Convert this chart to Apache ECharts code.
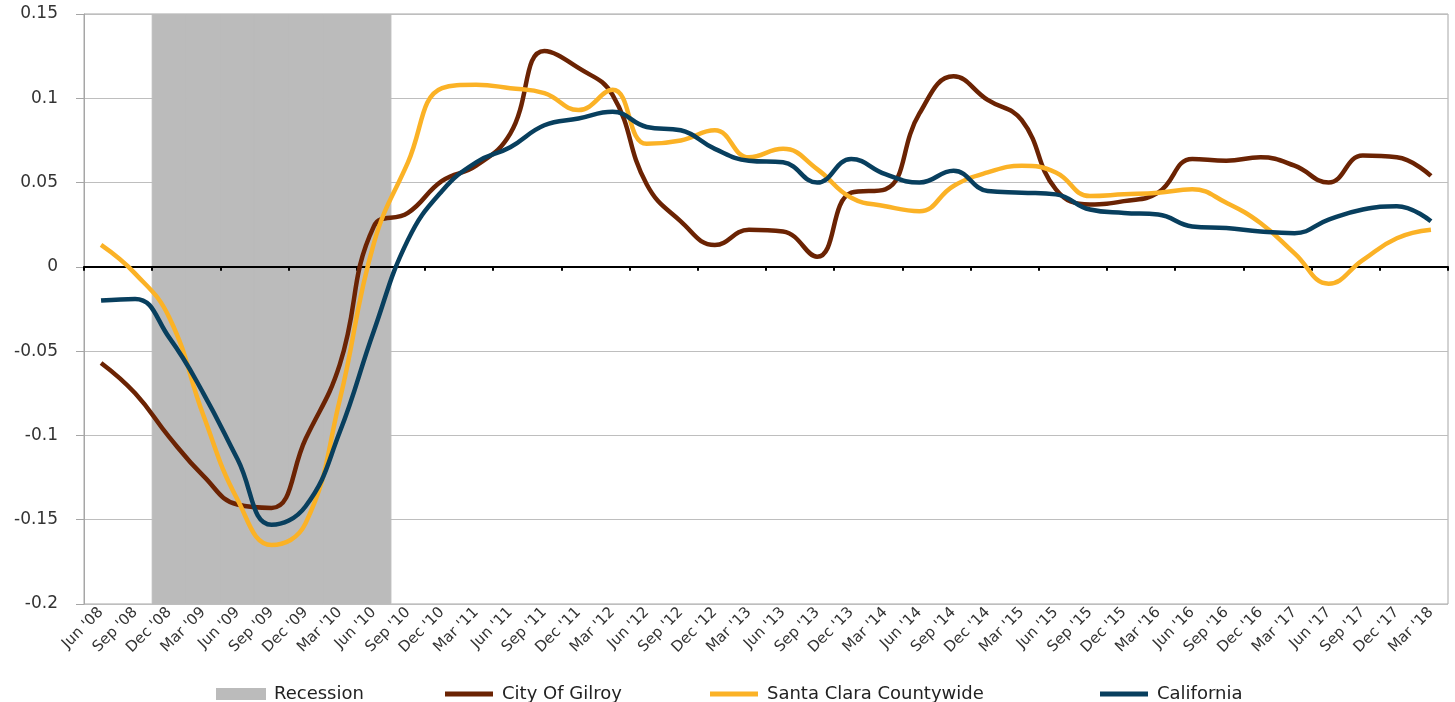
<!DOCTYPE html>
<html>
<head>
<meta charset="utf-8">
<script src="https://cdn.jsdelivr.net/npm/echarts@6/dist/echarts.min.js"></script>
<style>
  html, body { margin: 0; padding: 0; background: #fff; }
  #chart { width: 1455px; height: 702px; }
</style>
</head>
<body>
<div id="chart"></div>
<script>
    "use strict";

    var quarters = [
        "Jun '08", "Sep '08", "Dec '08",
        "Mar '09", "Jun '09", "Sep '09", "Dec '09",
        "Mar '10", "Jun '10", "Sep '10", "Dec '10",
        "Mar '11", "Jun '11", "Sep '11", "Dec '11",
        "Mar '12", "Jun '12", "Sep '12", "Dec '12",
        "Mar '13", "Jun '13", "Sep '13", "Dec '13",
        "Mar '14", "Jun '14", "Sep '14", "Dec '14",
        "Mar '15", "Jun '15", "Sep '15", "Dec '15",
        "Mar '16", "Jun '16", "Sep '16", "Dec '16",
        "Mar '17", "Jun '17", "Sep '17", "Dec '17",
        "Mar '18"
    ];

    // 1 = quarter inside the recession band
    var recession = [0, 0, 1, 1, 1, 1, 1, 1, 1, 0,
        0, 0, 0, 0, 0, 0, 0, 0, 0, 0,
        0, 0, 0, 0, 0, 0, 0, 0, 0, 0,
        0, 0, 0, 0, 0, 0, 0, 0, 0, 0];

    var gilroy = [-0.057, -0.075, -0.101, -0.124, -0.141, -0.143, -0.102, -0.058, 0.024, 0.032,
        0.051, 0.060, 0.079, 0.128, 0.118, 0.102, 0.049, 0.027, 0.013, 0.022,
        0.021, 0.006, 0.044, 0.046, 0.091, 0.113, 0.099, 0.087, 0.046, 0.037,
        0.039, 0.044, 0.064, 0.063, 0.065, 0.060, 0.050, 0.066, 0.065, 0.054];

    var santaClara = [0.013, -0.004, -0.030, -0.088, -0.138, -0.165, -0.152, -0.079, 0.014, 0.062,
        0.106, 0.108, 0.106, 0.103, 0.093, 0.105, 0.073, 0.075, 0.081, 0.065,
        0.070, 0.058, 0.041, 0.036, 0.033, 0.048, 0.056, 0.060, 0.056, 0.042,
        0.043, 0.044, 0.046, 0.038, 0.026, 0.008, -0.010, 0.004, 0.017, 0.022];

    var california = [-0.020, -0.019, -0.042, -0.075, -0.114, -0.153, -0.142, -0.098, -0.038, 0.016,
        0.045, 0.062, 0.071, 0.084, 0.088, 0.092, 0.083, 0.081, 0.070, 0.063,
        0.062, 0.050, 0.064, 0.055, 0.050, 0.057, 0.045, 0.044, 0.043, 0.034,
        0.032, 0.031, 0.024, 0.023, 0.021, 0.020, 0.028, 0.034, 0.036, 0.027];

    var yMin = -0.2, yMax = 0.15;

    var recTop = recession.map(function (r) { return r ? yMax : null; });
    var recBottom = recession.map(function (r) { return r ? yMin : null; });

    var font = "DejaVu Sans";
    var grey = '#BBBBBB';
    // flat bar used as legend key for the lines
    var lineIcon = 'path://M0,0L48,0L48,5L0,5Z';

    function lineSeries(name, data, color) {
        return {
            name: name,
            type: 'line',
            data: data,
            smooth: 0.45,
            symbol: 'none',
            lineStyle: {width: 4.5, color: color},
            itemStyle: {color: color},
            z: 3
        };
    }

    function recessionSeries(data) {
        return {
            name: 'Recession',
            type: 'bar',
            stack: 'rec',
            data: data,
            barWidth: '103%',
            itemStyle: {color: grey, borderColor: grey, borderWidth: 1},
            z: 1
        };
    }

    // one legend per item so each key sits where it does in the original
    function legendAt(left, name, icon) {
        return {
            top: 680,
            left: left,
            itemWidth: 48,
            itemHeight: 10,
            symbolKeepAspect: true,
            textStyle: {fontFamily: font, fontSize: 18, color: '#222', padding: [0, 0, 0, 4]},
            data: [{name: name, icon: icon}]
        };
    }

    var myChart = echarts.init(document.getElementById('chart'));
    myChart.setOption({
        animation: false,
        grid: {
            left: 84, right: 7, top: 14, bottom: 98,
            show: true, borderColor: '#A6A6A6', borderWidth: 1
        },
        legend: [
            legendAt(211, 'Recession', 'rect'),
            legendAt(440, 'City Of Gilroy', lineIcon),
            legendAt(705, 'Santa Clara Countywide', lineIcon),
            legendAt(1095, 'California', lineIcon)
        ],
        xAxis: [
            {
                type: 'category',
                data: quarters,
                position: 'bottom',
                axisLine: {show: false, onZero: false},
                axisTick: {show: false},
                axisLabel: {
                    interval: 0,
                    rotate: 45,
                    margin: 6,
                    fontFamily: font,
                    fontSize: 15,
                    color: '#333'
                }
            },
            {
                type: 'category',
                data: quarters,
                position: 'bottom',
                z: 2,
                axisLine: {show: true, onZero: true, lineStyle: {color: '#000', width: 2}},
                axisTick: {show: true, length: 4, lineStyle: {color: '#000', width: 2}},
                axisLabel: {show: false},
                splitLine: {show: false}
            }
        ],
        yAxis: {
            type: 'value',
            min: yMin,
            max: yMax,
            interval: 0.05,
            axisLine: {show: true, lineStyle: {color: '#A6A6A6'}},
            axisTick: {show: true, length: 8, lineStyle: {color: '#A6A6A6'}},
            axisLabel: {
                margin: 26,
                fontFamily: font,
                fontSize: 17,
                color: '#333',
                formatter: function (v) {
                    return String(Math.round(v * 100) / 100);
                }
            },
            splitLine: {lineStyle: {color: '#BEBEBE', width: 1}}
        },
        series: [
            recessionSeries(recTop),
            recessionSeries(recBottom),
            lineSeries('City Of Gilroy', gilroy, '#6B2303'),
            lineSeries('Santa Clara Countywide', santaClara, '#FBB226'),
            lineSeries('California', california, '#083F5E')
        ]
    });
</script>
</body>
</html>
